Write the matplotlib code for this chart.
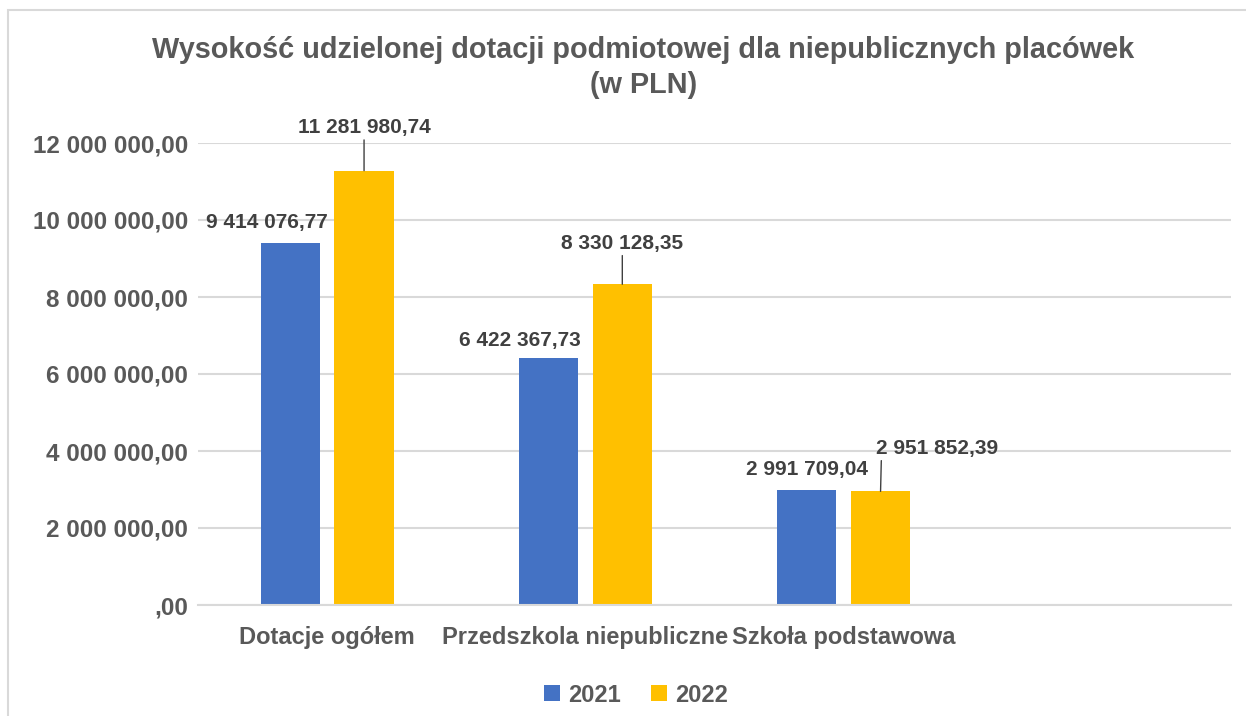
import matplotlib.pyplot as plt
import numpy as np
from matplotlib.patches import Rectangle

# dane
kategorie = ['Dotacje ogółem', 'Przedszkola niepubliczne', 'Szkoła podstawowa', '']
lata = ['2021', '2022']
wart_2021 = [9414076.77, 6422367.73, 2991709.04]
wart_2022 = [11281980.74, 8330128.35, 2951852.39]
yticks = [0, 2000000, 4000000, 6000000, 8000000, 10000000, 12000000]

kolory = ['#4472C4', '#FFC000']


def fmt(v):
    if v == 0:
        return ',00'
    s = f"{v:,.2f}"
    return s.replace(',', ' ').replace('.', ',')


plt.rcParams['font.family'] = ['Liberation Sans', 'DejaVu Sans']
plt.rcParams['font.weight'] = 'bold'

fig = plt.figure(figsize=(12.46, 7.16), dpi=100)
ax = fig.add_axes([198 / 1246, 1 - 605 / 716, (1231 - 198) / 1246, (605 - 143) / 716])

# ramka wykresu
fig.patches.append(Rectangle((8 / 1246, -0.1), 1.2, 1.1 - 10 / 716, transform=fig.transFigure,
                             fill=False, edgecolor='#D9D9D9', lw=1.5))

x = np.arange(len(wart_2021))
szer = 0.229
off = 0.143
b1 = ax.bar(x - off, wart_2021, szer, color=kolory[0], label=lata[0], zorder=3)
b2 = ax.bar(x + off, wart_2022, szer, color=kolory[1], label=lata[1], zorder=3)

ax.set_xlim(-0.5, 3.5)
ax.set_ylim(0, 12000000)
ax.set_xticks(np.arange(len(kategorie)))
ax.set_xticklabels(kategorie, fontsize=17, color='#595959', fontweight='bold')
ax.set_yticks(yticks)
ax.set_yticklabels([fmt(t) for t in yticks], fontsize=17.5, color='#595959', fontweight='bold')
ax.tick_params(axis='both', length=0)
ax.tick_params(axis='y', pad=7)
ax.tick_params(axis='x', pad=15)

ax.yaxis.grid(True, color='#D9D9D9', lw=1.5, zorder=0)
for s in ['top', 'right', 'left']:
    ax.spines[s].set_visible(False)
ax.spines['bottom'].set_color('#D9D9D9')
ax.spines['bottom'].set_linewidth(1.5)
ax.spines['bottom'].set_zorder(4)

# etykiety 2021
przes_2021 = [(-23, 20), (-29, 17), (0, 20)]
for xi, v, (dx, dy) in zip(x, wart_2021, przes_2021):
    ax.annotate(fmt(v), xy=(xi - off, v), xytext=(dx, dy), textcoords='offset pixels',
                ha='center', va='center', fontsize=15, color='#404040', fontweight='bold')

# etykiety 2022 z liniami
przes_2022 = [(0, 43), (0, 41), (57, 43)]
relpos = [(0.5, 0), (0.5, 0), (0.04, 0)]
for xi, v, (dx, dy), rp in zip(x, wart_2022, przes_2022, relpos):
    ax.annotate(fmt(v), xy=(xi + off, v), xytext=(dx, dy), textcoords='offset pixels',
                ha='center', va='center', fontsize=15, color='#404040', fontweight='bold',
                arrowprops=dict(arrowstyle='-', color='#404040', lw=1, shrinkA=0, shrinkB=0,
                                relpos=rp))

fig.text(643.5 / 1246, 1 - 50 / 716, 'Wysokość udzielonej dotacji podmiotowej dla niepublicznych placówek',
         ha='center', va='center', fontsize=20.8, color='#595959', fontweight='bold')
fig.text(643.5 / 1246, 1 - 85 / 716, '(w PLN)',
         ha='center', va='center', fontsize=20.8, color='#595959', fontweight='bold')

fig.legend(handles=[b1, b2], loc='center', bbox_to_anchor=(636 / 1246, 1 - 695 / 716),
           ncol=2, frameon=False, fontsize=17, labelcolor='#595959',
           handlelength=0.68, handleheight=0.68, handletextpad=0.35, columnspacing=1.3,
           prop={'weight': 'bold', 'size': 17})

fig.savefig('out.png', dpi=100)
